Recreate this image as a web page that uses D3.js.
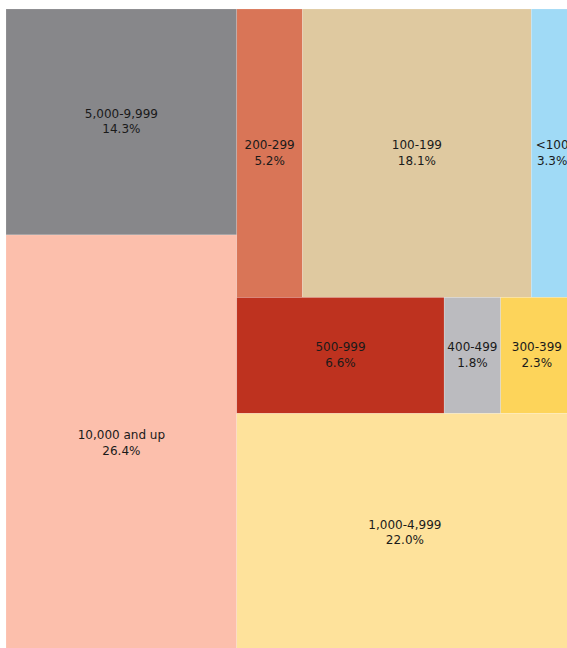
<!DOCTYPE html>
<html>
<head>
<meta charset="utf-8">
<script src="https://cdn.jsdelivr.net/npm/d3@7"></script>
<style>
  body { margin: 0; background: #fff; }
  svg { display: block; }
</style>
</head>
<body>
<svg id="chart" width="567" height="648"></svg>
<script>
const labels = ["5,000-9,999", "10,000 and up", "200-299", "100-199", "<100",
                "500-999", "400-499", "300-399", "1,000-4,999"];
const shares = [14.3, 26.4, 5.2, 18.1, 3.3, 6.6, 1.8, 2.3, 22.0];
// which column / row block each tile sits in
const column = [0, 0, 1, 1, 1, 1, 1, 1, 1];
const row = [0, 1, 0, 0, 0, 1, 1, 1, 2];
const colors = ["#87878a", "#fcbfac", "#d97557", "#dfc9a0", "#a0daf6",
                "#be321f", "#bbbbbf", "#fdd45a", "#fee29b"];

const svg = d3.select("#chart");
const width = 567, height = 643;

const items = labels.map((name, i) => ({
    name: name,
    share: shares[i],
    col: column[i],
    row: row[i]
}));

const color = d3.scaleOrdinal(labels, colors);

const root = d3.hierarchy(d3.group(items, d => d.col, d => d.row))
    .sum(d => d.share);

d3.treemap()
    .tile(d3.treemapSliceDice)
    .size([width, height])(root);

const g = svg.append("g").attr("transform", "translate(6,9)");

const cell = g.selectAll(".cell")
    .data(root.leaves())
    .enter()
    .append("g")
    .attr("class", "cell");

cell.append("rect")
    .attr("x", d => d.x0)
    .attr("y", d => d.y0)
    .attr("width", d => d.x1 - d.x0)
    .attr("height", d => d.y1 - d.y0)
    .attr("fill", d => color(d.data.name))
    .attr("stroke", "#fff")
    .attr("stroke-opacity", 0.25)
    .attr("stroke-width", 0.6);

const label = cell.append("text")
    .attr("text-anchor", "middle")
    .attr("font-family", "DejaVu Sans")
    .attr("font-size", "12px")
    .attr("fill", "#1a1a1a");

label.append("tspan")
    .attr("x", d => (d.x0 + d.x1) / 2)
    .attr("y", d => (d.y0 + d.y1) / 2 - 4)
    .text(d => d.data.name);

label.append("tspan")
    .attr("x", d => (d.x0 + d.x1) / 2)
    .attr("y", d => (d.y0 + d.y1) / 2 + 11.5)
    .text(d => d.data.share.toFixed(1) + "%");
</script>
</body>
</html>
